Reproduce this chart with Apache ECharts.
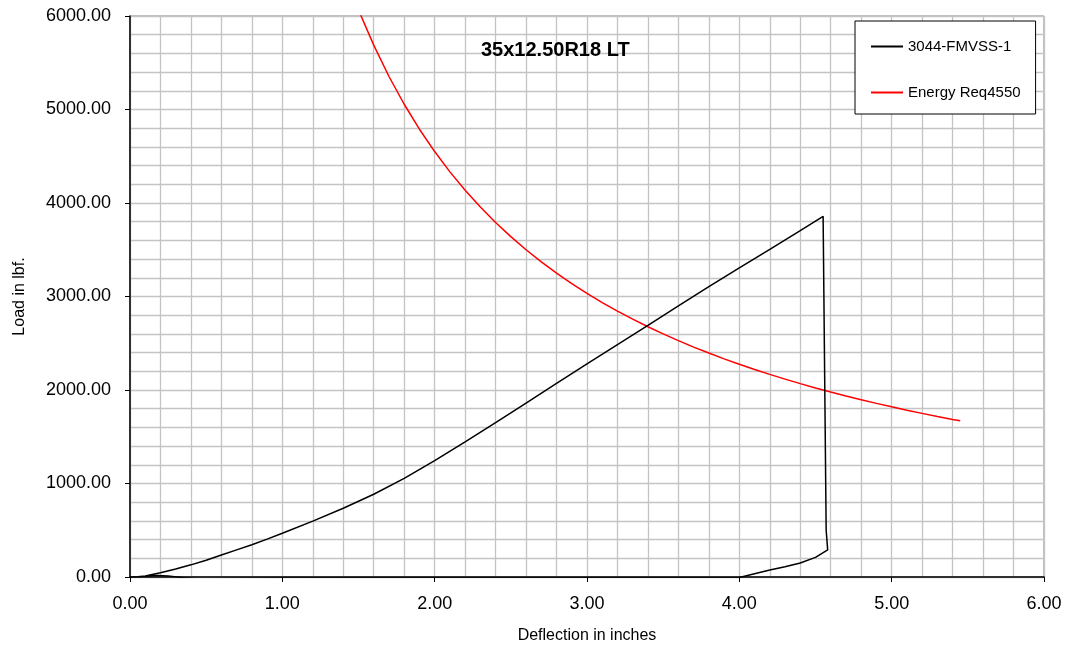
<!DOCTYPE html>
<html>
<head>
<meta charset="utf-8">
<script src="https://cdn.jsdelivr.net/npm/echarts@6/dist/echarts.min.js"></script>
<style>
html,body{margin:0;padding:0;background:#fff;}
#chart{width:1070px;height:651px;}
</style>
</head>
<body>
<div id="chart"></div>
<script>
// ---- data ----
const chartTitle = "35x12.50R18 LT";
const xTicks = [0, 1, 2, 3, 4, 5, 6];
const yTicks = [0, 1000, 2000, 3000, 4000, 5000, 6000];

const testName = "3044-FMVSS-1";
const testX = [0.00,0.05,0.10,0.20,0.30,0.40,0.50,0.60,0.70,0.80,0.90,1.00,1.20,1.40,1.60,1.80,2.00,2.20,2.40,2.60,2.80,3.00,3.20,3.40,3.60,3.80,4.00,4.20,4.40,4.55,4.56,4.57,4.58,4.50,4.40,4.30,4.20,4.10,4.00,3.00,2.00,1.00,0.44,0.35,0.25,0.18,0.10,0.05];
const testY = [0,3,10,45,85,130,180,235,290,345,405,468,598,735,885,1055,1245,1445,1650,1860,2070,2280,2485,2690,2900,3105,3305,3505,3705,3858,3845,500,290,210,150,110,75,35,-5,-8,-8,-10,-20,-8,12,15,8,2];

const reqName = "Energy Req4550";
const reqX = [1.51,1.60,1.70,1.80,1.90,2.00,2.10,2.20,2.30,2.40,2.50,2.60,2.70,2.80,2.90,3.00,3.10,3.20,3.30,3.40,3.50,3.60,3.70,3.80,3.90,4.00,4.10,4.20,4.30,4.40,4.50,4.60,4.70,4.80,4.90,5.00,5.10,5.20,5.30,5.40,5.45];
const reqY = [6026,5688,5353,5056,4789,4550,4333,4136,3957,3792,3640,3500,3370,3250,3138,3033,2935,2844,2758,2676,2600,2528,2459,2395,2333,2275,2220,2167,2116,2068,2022,1978,1936,1896,1857,1820,1784,1750,1717,1685,1670];

const zip = (xs, ys) => xs.map((x, i) => [x, ys[i]]);

const chart = echarts.init(document.getElementById('chart'), null, {renderer: 'canvas'});
const FONT = '"Liberation Sans", Arial, sans-serif';
const gridColor = '#c4c4c4';

chart.setOption({
  animation: false,
  backgroundColor: '#ffffff',
  title: {
    text: chartTitle,
    left: 476, top: 35,
    textStyle: {fontFamily: FONT, fontSize: 20, fontWeight: 'bold', color: '#000'}
  },
  legend: {
    orient: 'vertical',
    left: 855, top: 21,
    padding: [18, 15, 14, 16],
    itemGap: 31,
    itemWidth: 32, itemHeight: 2,
    icon: 'rect',
    borderColor: '#000', borderWidth: 1,
    backgroundColor: '#fff',
    textStyle: {fontFamily: FONT, fontSize: 15, color: '#000'},
    data: [testName, reqName]
  },
  grid: {
    left: 130, right: 26, top: 16, bottom: 74,
    show: true, borderColor: '#808080', borderWidth: 1, backgroundColor: '#fff'
  },
  xAxis: {
    type: 'value', min: xTicks[0], max: xTicks[xTicks.length - 1], interval: 1,
    name: 'Deflection in inches', nameLocation: 'middle', nameGap: 51,
    nameTextStyle: {fontFamily: FONT, fontSize: 16, color: '#000'},
    axisLine: {show: true, onZero: false, lineStyle: {color: '#000', width: 1.5}},
    axisTick: {show: true, length: 5, lineStyle: {color: '#000'}},
    axisLabel: {margin: 18, fontFamily: FONT, fontSize: 18, color: '#000', formatter: v => v.toFixed(2)},
    splitLine: {show: true, lineStyle: {color: gridColor, width: 1.3}},
    minorTick: {show: false, splitNumber: 5},
    minorSplitLine: {show: true, lineStyle: {color: gridColor, width: 1.3}}
  },
  yAxis: {
    type: 'value', min: yTicks[0], max: yTicks[yTicks.length - 1], interval: 1000,
    name: 'Load in lbf.', nameLocation: 'middle', nameGap: 102,
    nameTextStyle: {fontFamily: FONT, fontSize: 16, color: '#000'},
    axisLine: {show: true, onZero: false, lineStyle: {color: '#000', width: 1.5}},
    axisTick: {show: true, length: 5, lineStyle: {color: '#000'}},
    axisLabel: {margin: 19, fontFamily: FONT, fontSize: 18, color: '#000', formatter: v => v.toFixed(2)},
    splitLine: {show: true, lineStyle: {color: gridColor, width: 1.3}},
    minorTick: {show: false, splitNumber: 5},
    minorSplitLine: {show: true, lineStyle: {color: gridColor, width: 1.3}}
  },
  series: [
    {
      name: testName, type: 'line', data: zip(testX, testY),
      showSymbol: false, symbol: 'none', clip: true,
      lineStyle: {color: '#000', width: 1.5}, itemStyle: {color: '#000'}, z: 3
    },
    {
      name: reqName, type: 'line', data: zip(reqX, reqY),
      showSymbol: false, symbol: 'none', clip: true, smooth: false,
      lineStyle: {color: '#ff0000', width: 1.5}, itemStyle: {color: '#ff0000'}, z: 2
    }
  ]
});
</script>
</body>
</html>
